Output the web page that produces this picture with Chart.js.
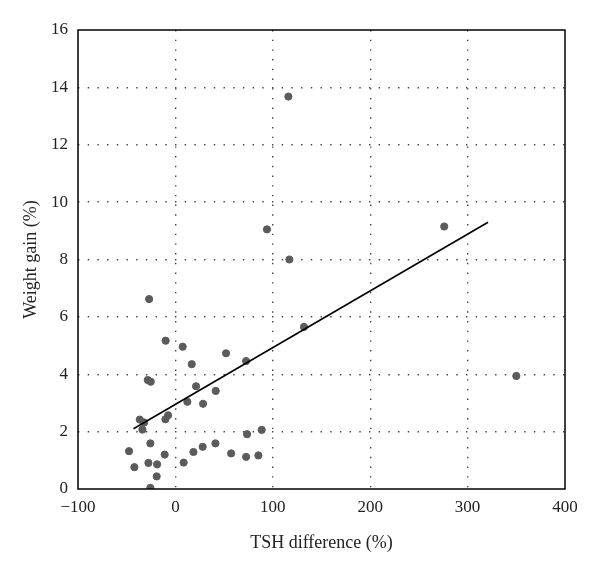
<!DOCTYPE html>
<html>
<head>
<meta charset="utf-8">
<script src="https://cdn.jsdelivr.net/npm/chart.js@4"></script>
<style>
  html, body { margin: 0; padding: 0; background: #fff; }
  #wrap { width: 600px; height: 567px; position: relative; }
</style>
</head>
<body>
<div id="wrap"><canvas id="scatterChart"></canvas></div>
<script>
// TSH difference (%) vs weight gain (%)
const tshDiff = [116, 276, 94, 117, 350, 132, -27, -10, 7.5, 52, 72.6, 16.8, -28.4, -25.3,
    21.2, 41.4, 12.3, 28.4, -7.5, -10.3, -36.6, -32.1, -33.9, 88.6, 73.6, -25.7, 41.1, 28,
    -47.6, 18.5, 57.2, -11, 85.2, 72.6, -27.7, -18.8, 8.5, -42.1, -19.2, -25.7];
const weightGain = [13.68, 9.15, 9.05, 8.0, 3.94, 5.65, 6.62, 5.17, 4.96, 4.73, 4.46, 4.35, 3.8, 3.74,
    3.58, 3.42, 3.04, 2.97, 2.57, 2.43, 2.42, 2.32, 2.07, 2.06, 1.91, 1.59, 1.59, 1.47,
    1.32, 1.29, 1.24, 1.2, 1.17, 1.12, 0.91, 0.86, 0.92, 0.76, 0.44, 0.04];

// fitted trend line end points
const fitX = [-43, 321];
const fitY = [2.1, 9.3];

const xTicks = [-100, 0, 100, 200, 300, 400];
const yTicks = [0, 2, 4, 6, 8, 10, 12, 14, 16];

const frameBox = {
    id: 'frameBox',
    afterDatasetsDraw(chart) {
        const a = chart.chartArea;
        const c = chart.ctx;
        c.save();
        c.strokeStyle = '#000';
        c.lineWidth = 1.5;
        c.strokeRect(a.left, a.top, a.right - a.left, a.bottom - a.top);
        c.restore();
    }
};

const fontFamily = "'Liberation Serif', 'DejaVu Serif', serif";

document.addEventListener("DOMContentLoaded", function () {
    const ctx = document.getElementById("scatterChart").getContext("2d");

    new Chart(ctx, {
        type: 'scatter',
        data: {
            datasets: [{
                data: tshDiff.map((x, i) => ({ x: x, y: weightGain[i] })),
                backgroundColor: '#5b5b5b',
                borderColor: '#5b5b5b',
                pointRadius: 3.6,
                order: 2
            }, {
                type: 'line',
                data: fitX.map((x, i) => ({ x: x, y: fitY[i] })),
                borderColor: '#000',
                borderWidth: 1.6,
                pointRadius: 0,
                fill: false,
                order: 1
            }]
        },
        options: {
            responsive: true,
            maintainAspectRatio: false,
            animation: false,
            layout: { padding: { top: 30, right: 35, left: 0, bottom: 0 } },
            plugins: {
                legend: { display: false },
                tooltip: { enabled: false }
            },
            scales: {
                x: {
                    type: 'linear',
                    min: -100,
                    max: 400,
                    afterBuildTicks: axis => { axis.ticks = xTicks.map(v => ({ value: v })); },
                    afterFit: axis => { axis.height = 78; },
                    border: { display: false, dash: [1.4, 8.3] },
                    grid: {
                        color: ctx => (ctx.tick && (ctx.tick.value === -100 || ctx.tick.value === 400)) ? 'rgba(0,0,0,0)' : '#444',
                        lineWidth: 1.4,
                        drawTicks: false
                    },
                    ticks: {
                        color: '#222',
                        font: { family: fontFamily, size: 17 },
                        padding: 8,
                        callback: v => v < 0 ? '\u2212' + Math.abs(v) : String(v)
                    },
                    title: {
                        display: true,
                        text: 'TSH difference (%)',
                        color: '#222',
                        font: { family: fontFamily, size: 18 },
                        padding: { top: 4, bottom: 13 }
                    }
                },
                y: {
                    type: 'linear',
                    min: 0,
                    max: 16,
                    afterBuildTicks: axis => { axis.ticks = yTicks.map(v => ({ value: v })); },
                    afterFit: axis => { axis.width = 78; },
                    border: { display: false, dash: [1.4, 8.3] },
                    grid: {
                        color: ctx => (ctx.tick && (ctx.tick.value === 0 || ctx.tick.value === 16)) ? 'rgba(0,0,0,0)' : '#444',
                        lineWidth: 1.4,
                        drawTicks: false
                    },
                    ticks: {
                        color: '#222',
                        font: { family: fontFamily, size: 17 },
                        padding: 10
                    },
                    title: {
                        display: true,
                        text: 'Weight gain (%)',
                        color: '#222',
                        font: { family: fontFamily, size: 18 },
                        padding: { top: 20, bottom: 2 }
                    }
                }
            }
        },
        plugins: [frameBox]
    });
});
</script>
</body>
</html>
